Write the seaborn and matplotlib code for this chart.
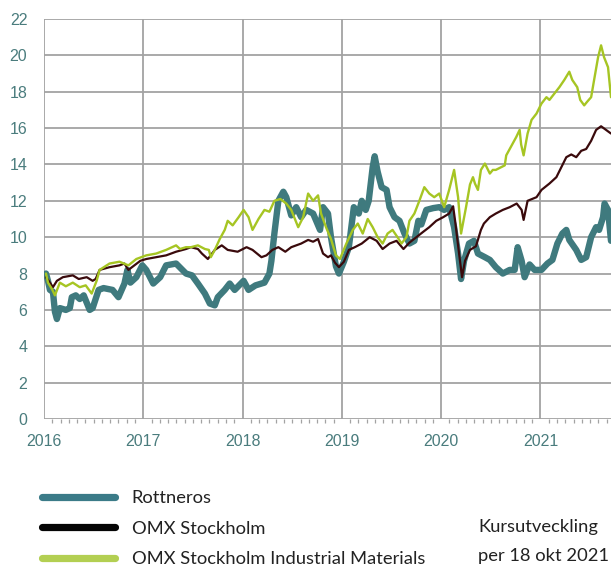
import numpy as np
import pandas as pd
import matplotlib
matplotlib.use("Agg")
import matplotlib.pyplot as plt
from matplotlib.lines import Line2D
from matplotlib.ticker import MultipleLocator
import seaborn as sns

# values (x in decimal years)
rott_x = [2016.02, 2016.04, 2016.06, 2016.09, 2016.11, 2016.13, 2016.16, 2016.22, 2016.26, 2016.28,
          2016.32, 2016.36, 2016.40, 2016.46, 2016.49, 2016.55, 2016.60, 2016.69, 2016.75, 2016.81,
          2016.84, 2016.87, 2016.93, 2016.99, 2017.03, 2017.10, 2017.17, 2017.23, 2017.33, 2017.43,
          2017.49, 2017.55, 2017.62, 2017.67, 2017.72, 2017.75, 2017.82, 2017.87, 2017.92, 2018.01,
          2018.06, 2018.13, 2018.22, 2018.27, 2018.29, 2018.32, 2018.36, 2018.41, 2018.44, 2018.49,
          2018.54, 2018.59, 2018.64, 2018.71, 2018.78, 2018.81, 2018.86, 2018.89, 2018.94, 2018.97,
          2019.02, 2019.07, 2019.12, 2019.17, 2019.20, 2019.24, 2019.27, 2019.31, 2019.33, 2019.36,
          2019.40, 2019.45, 2019.48, 2019.53, 2019.58, 2019.63, 2019.68, 2019.73, 2019.77, 2019.80,
          2019.85, 2019.92, 2019.98, 2020.03, 2020.08, 2020.13, 2020.17, 2020.20, 2020.23, 2020.28,
          2020.33, 2020.37, 2020.44, 2020.49, 2020.55, 2020.62, 2020.69, 2020.74, 2020.77, 2020.81,
          2020.84, 2020.89, 2020.94, 2021.01, 2021.07, 2021.12, 2021.17, 2021.22, 2021.26, 2021.29,
          2021.36, 2021.41, 2021.46, 2021.51, 2021.56, 2021.59, 2021.63, 2021.645, 2021.68, 2021.71]
rott_y = [8.0, 7.6, 7.1, 7.0, 5.9, 5.5, 6.1, 6.0, 6.1, 6.7,
          6.8, 6.6, 6.8, 6.0, 6.1, 7.1, 7.2, 7.1, 6.7, 7.45,
          8.2, 7.5, 7.8, 8.45, 8.2, 7.45, 7.8, 8.45, 8.55, 8.0,
          7.9, 7.45, 6.9, 6.35, 6.25, 6.7, 7.1, 7.45, 7.1, 7.6,
          7.1, 7.35, 7.5, 8.0, 8.7, 10.2, 12.0, 12.5, 12.2, 11.2,
          11.65, 11.1, 11.5, 11.3, 10.4, 11.65, 11.3, 10.0, 8.4, 8.0,
          8.65, 9.45, 11.65, 11.3, 12.0, 11.5, 12.0, 13.85, 14.45, 13.6,
          12.75, 12.6, 11.65, 11.1, 10.9, 10.2, 9.65, 9.8, 10.9, 10.7,
          11.5, 11.6, 11.65, 11.5, 11.65, 10.55, 9.1, 7.7, 8.7, 9.65,
          9.8, 9.1, 8.9, 8.75, 8.35, 8.0, 8.2, 8.2, 9.45, 8.7,
          7.8, 8.5, 8.2, 8.2, 8.55, 8.75, 9.65, 10.2, 10.4, 9.85,
          9.3, 8.75, 8.9, 10.0, 10.55, 10.4, 11.1, 11.85, 11.5, 9.8]

omx_x = [2016.02, 2016.06, 2016.09, 2016.13, 2016.19, 2016.29, 2016.35, 2016.43, 2016.49, 2016.52,
         2016.56, 2016.66, 2016.76, 2016.81, 2016.85, 2016.91, 2016.97, 2017.03, 2017.13, 2017.23,
         2017.33, 2017.43, 2017.48, 2017.55, 2017.59, 2017.65, 2017.72, 2017.79, 2017.85, 2017.95,
         2018.04, 2018.10, 2018.19, 2018.24, 2018.30, 2018.36, 2018.43, 2018.49, 2018.59, 2018.66,
         2018.71, 2018.76, 2018.81, 2018.86, 2018.89, 2018.93, 2018.97, 2019.02, 2019.07, 2019.13,
         2019.20, 2019.28, 2019.35, 2019.41, 2019.48, 2019.55, 2019.62, 2019.68, 2019.75, 2019.82,
         2019.88, 2019.95, 2020.02, 2020.08, 2020.12, 2020.14, 2020.18, 2020.21, 2020.24, 2020.29,
         2020.35, 2020.40, 2020.43, 2020.49, 2020.55, 2020.62, 2020.69, 2020.76, 2020.81, 2020.83,
         2020.87, 2020.96, 2021.01, 2021.09, 2021.16, 2021.21, 2021.26, 2021.31, 2021.36, 2021.41,
         2021.46, 2021.51, 2021.56, 2021.61, 2021.66, 2021.71]
omx_y = [7.8, 7.5, 7.25, 7.6, 7.8, 7.9, 7.7, 7.8, 7.6, 7.7,
         8.2, 8.35, 8.45, 8.55, 8.2, 8.45, 8.7, 8.8, 8.9, 9.0,
         9.2, 9.35, 9.45, 9.35, 9.1, 8.8, 9.3, 9.55, 9.3, 9.2,
         9.45, 9.3, 8.9, 9.0, 9.3, 9.45, 9.2, 9.45, 9.65, 9.85,
         9.75, 9.9, 9.1, 8.9, 9.0, 8.6, 8.35, 8.65, 9.3, 9.45,
         9.65, 10.0, 9.8, 9.35, 9.65, 9.8, 9.35, 9.7, 10.0, 10.3,
         10.55, 10.9, 11.1, 11.3, 11.7, 10.9, 9.1, 7.8, 8.7, 9.3,
         9.5, 10.4, 10.75, 11.1, 11.3, 11.5, 11.65, 11.85, 11.5, 10.95,
         12.0, 12.2, 12.6, 12.95, 13.3, 13.85, 14.4, 14.55, 14.4, 14.75,
         14.85, 15.3, 15.9, 16.1, 15.9, 15.7]

ind_x = [2016.02, 2016.04, 2016.08, 2016.11, 2016.16, 2016.22, 2016.29, 2016.36, 2016.42, 2016.48,
         2016.53, 2016.56, 2016.66, 2016.76, 2016.85, 2016.93, 2017.03, 2017.13, 2017.23, 2017.33,
         2017.37, 2017.43, 2017.48, 2017.55, 2017.62, 2017.66, 2017.68, 2017.72, 2017.77, 2017.82,
         2017.85, 2017.90, 2017.96, 2018.01, 2018.06, 2018.10, 2018.16, 2018.22, 2018.27, 2018.32,
         2018.38, 2018.44, 2018.49, 2018.56, 2018.61, 2018.66, 2018.71, 2018.76, 2018.79, 2018.84,
         2018.89, 2018.94, 2018.98, 2019.045, 2019.11, 2019.16, 2019.21, 2019.26, 2019.31, 2019.36,
         2019.41, 2019.46, 2019.51, 2019.56, 2019.60, 2019.65, 2019.68, 2019.73, 2019.78, 2019.83,
         2019.88, 2019.93, 2019.98, 2020.03, 2020.08, 2020.13, 2020.17, 2020.20, 2020.25, 2020.29,
         2020.32, 2020.34, 2020.37, 2020.40, 2020.44, 2020.49, 2020.52, 2020.55, 2020.64, 2020.655,
         2020.70, 2020.755, 2020.79, 2020.805, 2020.83, 2020.87, 2020.91, 2020.96, 2021.01, 2021.06,
         2021.09, 2021.14, 2021.19, 2021.24, 2021.29, 2021.32, 2021.37, 2021.40, 2021.44, 2021.47,
         2021.51, 2021.54, 2021.58, 2021.61, 2021.64, 2021.68, 2021.71]
ind_y = [8.0, 7.5, 7.15, 6.8, 7.5, 7.3, 7.5, 7.25, 7.35, 6.9,
         7.6, 8.2, 8.55, 8.65, 8.45, 8.8, 9.0, 9.1, 9.3, 9.55,
         9.35, 9.45, 9.45, 9.55, 9.35, 9.3, 8.9, 9.3, 9.9, 10.4,
         10.9, 10.65, 11.1, 11.5, 11.1, 10.4, 11.0, 11.5, 11.4, 12.0,
         12.1, 11.85, 11.5, 10.55, 11.1, 12.4, 12.0, 12.3, 11.3, 10.55,
         9.9, 9.0, 8.8, 9.65, 10.4, 10.75, 10.2, 11.0, 10.55, 10.0,
         9.65, 10.2, 10.4, 10.0, 9.65, 10.0, 10.9, 11.3, 12.0, 12.75,
         12.4, 12.2, 12.4, 11.65, 12.6, 13.7, 12.2, 10.2, 11.65, 12.9,
         13.3, 12.95, 12.6, 13.7, 14.05, 13.5, 13.7, 13.7, 13.95, 14.5,
         14.95, 15.5, 15.9, 15.1, 14.5, 15.7, 16.45, 16.8, 17.35, 17.7,
         17.55, 17.9, 18.25, 18.65, 19.1, 18.65, 18.25, 17.55, 17.25, 17.45,
         17.7, 18.65, 19.9, 20.55, 19.9, 19.35, 17.7]

labels = ["Rottneros", "OMX Stockholm", "OMX Stockholm Industrial Materials"]
years = [2016, 2017, 2018, 2019, 2020, 2021]

teal = "#3f7a7e"
maroon = "#3a0a0c"
green = "#a6c523"
tick_col = "#4a7c7d"
grid_col = "#a3a3a3"

sns.set_style("white")
plt.rcParams["font.family"] = ["Liberation Sans", "DejaVu Sans"]

fig = plt.figure(figsize=(6.11, 5.66), dpi=100)
ax = fig.add_axes([44 / 611, 147 / 566, 1 - 44 / 611, 400 / 566])

sns.lineplot(x=rott_x, y=rott_y, ax=ax, color=teal, linewidth=4.6, solid_joinstyle="round", zorder=3)
sns.lineplot(x=omx_x, y=omx_y, ax=ax, color=maroon, linewidth=1.6, zorder=4)
sns.lineplot(x=ind_x, y=ind_y, ax=ax, color=green, linewidth=1.7, zorder=5)

ax.set_xlim(2016, 2021.71)
ax.set_ylim(0, 22)
ax.set_xticks(years)
ax.set_xticklabels([str(y) for y in years])
ax.xaxis.set_minor_locator(MultipleLocator(1 / 12))
ax.set_yticks(np.arange(0, 23, 2))
ax.grid(True, which="major", color=grid_col, linewidth=1.3)
ax.set_axisbelow(True)
for s in ax.spines.values():
    s.set_visible(False)
ax.tick_params(axis="both", which="major", labelsize=11.5, labelcolor=tick_col,
               color=grid_col, width=1.1)
ax.tick_params(axis="x", which="major", length=5, pad=6)
ax.tick_params(axis="y", which="major", length=4, pad=8)
ax.tick_params(axis="x", which="minor", length=3, color=grid_col, width=0.9, bottom=True)
ax.set_xlabel("")
ax.set_ylabel("")

handles = [Line2D([], [], color="#3b7b88", lw=5.2, solid_capstyle="round"),
           Line2D([], [], color="#050505", lw=5.2, solid_capstyle="round"),
           Line2D([], [], color="#b3cf52", lw=5.2, solid_capstyle="round")]
fig.legend(handles, labels, loc="upper left", bbox_to_anchor=(42 / 611, 1 - 490 / 566),
           frameon=False, prop={"family": "Lato", "size": 13.2}, handlelength=4.0,
           handletextpad=0.9, labelspacing=0.8, borderpad=0, borderaxespad=0,
           labelcolor="#222222")

fig.text(478 / 611, 1 - 527 / 566, "Kursutveckling", family="Lato", size=13.2,
         color="#222222", va="center", ha="left")
fig.text(478 / 611, 1 - 556 / 566, "per 18 okt 2021", family="Lato", size=13.2,
         color="#222222", va="center", ha="left")

fig.savefig("out.png", dpi=100)
